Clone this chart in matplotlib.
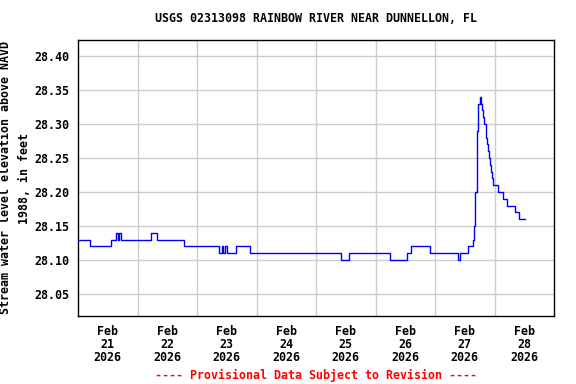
import matplotlib
matplotlib.use('Agg')
import matplotlib.pyplot as plt
import pandas as pd

# ── Data: gage height change points (value holds until next time) ─────────
CHANGE_TIMES = [
    '2026-02-21 00:00', '2026-02-21 05:00', '2026-02-21 13:30', '2026-02-21 15:15',
    '2026-02-21 16:00', '2026-02-21 16:30', '2026-02-21 17:15', '2026-02-22 05:15',
    '2026-02-22 08:00', '2026-02-22 18:45', '2026-02-23 08:45', '2026-02-23 10:00',
    '2026-02-23 10:30', '2026-02-23 11:15', '2026-02-23 12:00', '2026-02-23 15:45',
    '2026-02-23 21:15', '2026-02-25 10:00', '2026-02-25 13:30', '2026-02-26 06:00',
    '2026-02-26 12:45', '2026-02-26 14:30', '2026-02-26 22:00', '2026-02-27 09:15',
    '2026-02-27 10:15', '2026-02-27 13:30', '2026-02-27 15:15', '2026-02-27 15:45',
    '2026-02-27 16:15', '2026-02-27 16:45', '2026-02-27 17:00', '2026-02-27 17:30',
    '2026-02-27 18:00', '2026-02-27 18:30', '2026-02-27 19:00', '2026-02-27 19:15',
    '2026-02-27 19:45', '2026-02-27 20:30', '2026-02-27 20:45', '2026-02-27 21:00',
    '2026-02-27 21:30', '2026-02-27 21:45', '2026-02-27 22:15', '2026-02-27 22:30',
    '2026-02-27 23:00', '2026-02-27 23:30', '2026-02-28 01:30', '2026-02-28 03:15',
    '2026-02-28 05:00', '2026-02-28 08:15', '2026-02-28 10:00', '2026-02-28 12:30',
]
CHANGE_VALUES = [
    28.13, 28.12, 28.13, 28.14,
    28.13, 28.14, 28.13, 28.14,
    28.13, 28.12, 28.11, 28.12,
    28.11, 28.12, 28.11, 28.12,
    28.11, 28.10, 28.11, 28.10,
    28.11, 28.12, 28.11, 28.10,
    28.11, 28.12, 28.13, 28.15,
    28.20, 28.21, 28.29, 28.33,
    28.34, 28.33, 28.32, 28.31,
    28.30, 28.29, 28.28, 28.27,
    28.26, 28.25, 28.24, 28.23,
    28.22, 28.21, 28.20, 28.19,
    28.18, 28.17, 28.16, 28.16,
]

Y_TICKS = [28.05, 28.10, 28.15, 28.20, 28.25, 28.30, 28.35, 28.40]
DAY_LABELS = ['21', '22', '23', '24', '25', '26', '27', '28']

TITLE = 'USGS 02313098 RAINBOW RIVER NEAR DUNNELLON, FL'
YLABEL = 'Stream water level elevation above NAVD\n1988, in feet'
FOOTER = '---- Provisional Data Subject to Revision ----'

# ── Style ──────────────────────────────────────────────────────────────────
LINE_COLOR = '#0000ff'
GRID_COLOR = '#cccccc'
FONT = dict(family='DejaVu Sans Mono', weight='bold', size=8.4)

fig = plt.figure(figsize=(5.76, 3.84), dpi=100)
ax = fig.add_axes([78 / 576, 1 - 316 / 384, 476 / 576, 276 / 384])

times = pd.to_datetime(CHANGE_TIMES)
ax.plot(times, CHANGE_VALUES, drawstyle='steps-post',
        color=LINE_COLOR, linewidth=1.0, zorder=3)

x0 = pd.Timestamp('2026-02-21 00:00')
x1 = pd.Timestamp('2026-03-01 00:00')
ax.set_xlim(x0, x1)
ax.set_ylim(28.0176, 28.4235)

# labels at noon, gridlines at midnight
noons = [x0 + pd.Timedelta(days=i, hours=12) for i in range(len(DAY_LABELS))]
mids = [x0 + pd.Timedelta(days=i) for i in range(1, 8)]
ax.set_xticks(noons)
ax.set_xticklabels([f'Feb\n{d}\n2026' for d in DAY_LABELS],
                   linespacing=1.0, **FONT)
ax.set_xticks(mids, minor=True)
ax.grid(True, which='minor', axis='x', color=GRID_COLOR, linewidth=1.0, zorder=1)
ax.grid(False, which='major', axis='x')

ax.set_yticks(Y_TICKS)
ax.set_yticklabels([f'{v:.2f}' for v in Y_TICKS], **FONT)
ax.grid(True, which='major', axis='y', color=GRID_COLOR, linewidth=1.0, zorder=1)
ax.tick_params(axis='both', which='both', length=0)
ax.tick_params(axis='x', pad=6.5)
ax.tick_params(axis='y', pad=6)

for spine in ax.spines.values():
    spine.set_edgecolor('black')
    spine.set_linewidth(1.0)

ax.set_ylabel(YLABEL, multialignment='center', linespacing=1.65, labelpad=2.4, **FONT)

fig.text(316 / 576, 1 - 19 / 384, TITLE, ha='center', va='center', **FONT)
fig.text(316 / 576, 1 - 375 / 384, FOOTER, ha='center', va='center',
         color='#ff0000', **FONT)

fig.savefig('out.png', dpi=100)
